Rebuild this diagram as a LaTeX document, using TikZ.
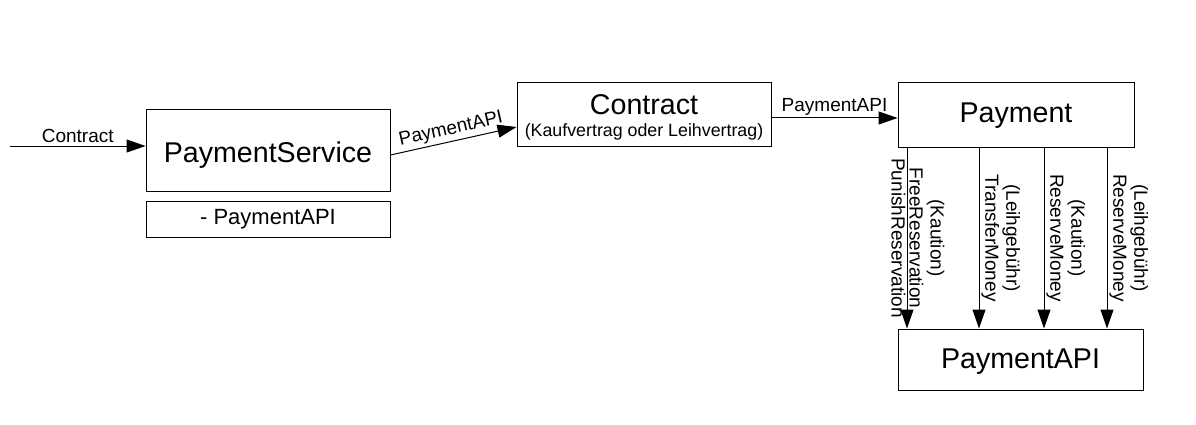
\documentclass[tikz,border=0pt]{standalone}
\usepackage{fontspec}
\setmainfont{Liberation Sans}
\usetikzlibrary{arrows.meta}
\newcommand{\bigf}{\fontsize{28.6}{33}\selectfont}
\newcommand{\midf}{\fontsize{22}{26}\selectfont}
\newcommand{\smf}{\fontsize{19}{21}\selectfont}
\newcommand{\subf}{\fontsize{17.8}{21}\selectfont}
\begin{document}
\begin{tikzpicture}[x=1pt,y=-1pt,
  box/.style={draw=black, line width=1pt, rectangle, inner sep=0pt, fill=white},
  arr/.style={draw=black, line width=1pt, -{Triangle[length=19pt,width=13pt]}},
  lbl/.style={font=\smf, inner sep=2pt},
  vlblr/.style={font=\smf, rotate=-90, anchor=south, inner sep=2pt, align=center},
  vlbll/.style={font=\smf, rotate=-90, anchor=north, inner sep=1pt, align=center}]
\useasboundingbox (0,0) rectangle (1196,425);
\fill[white] (0,0) rectangle (1196,425);
% boxes
\node[box, minimum width=244pt, minimum height=81pt, font=\bigf, text height=23pt, text depth=0pt] (ps) at (268,150.5) {PaymentService};
\node[box, minimum width=244pt, minimum height=36pt, font=\midf] (psm) at (268,219) {- PaymentAPI};
\node[box, minimum width=254pt, minimum height=63pt] (contract) at (644,114.5) {};
\node[anchor=base, font=\bigf, inner sep=0pt] (ctitle) at (644,114.5) {Contract};
\node[anchor=base, font=\subf, inner sep=0pt] (csub) at (644,136) {(Kaufvertrag oder Leihvertrag)};
\node[box, minimum width=236pt, minimum height=64pt, font=\bigf, text height=16pt, text depth=0pt] (payment) at (1016,115) {Payment};
\node[box, minimum width=245pt, minimum height=61pt, font=\bigf, text height=17pt, text depth=0pt] (papi) at (1020.5,359.5) {PaymentAPI};
% connectors
\coordinate (cin) at (10,146);
\draw[arr] (cin) -- (cin -| ps.west) node[midway, above, lbl, inner sep=3pt] (lcontract) {Contract};
\draw[arr] ([yshift=-4.5pt]ps.east) -- ([yshift=-12.5pt]contract.west) node[midway, sloped, above, lbl, inner sep=2.5pt] (lpapi1) {PaymentAPI};
\draw[arr] ([yshift=-3.5pt]contract.east) -- ([yshift=-3.5pt]contract.east -| payment.west) node[midway, above, lbl] (lpapi2) {PaymentAPI};
\coordinate (x1) at (907,0);
\coordinate (x2) at (979,0);
\coordinate (x3) at (1044,0);
\coordinate (x4) at (1107,0);
\draw[arr] (payment.south -| x1) -- (papi.north -| x1)
  node[pos=0.5, vlblr] (l1r) {(Kaution)\\FreeReservation}
  node[pos=0.5, vlbll] (l1l) {PunishReservation};
\draw[arr] (payment.south -| x2) -- (papi.north -| x2)
  node[pos=0.5, vlblr] (l2) {(Leihgebühr)\\TransferMoney};
\draw[arr] (payment.south -| x3) -- (papi.north -| x3)
  node[pos=0.5, vlblr] (l3) {(Kaution)\\ReserveMoney};
\draw[arr] (payment.south -| x4) -- (papi.north -| x4)
  node[pos=0.5, vlblr] (l4) {(Leihgebühr)\\ReserveMoney};
\end{tikzpicture}
\end{document}
